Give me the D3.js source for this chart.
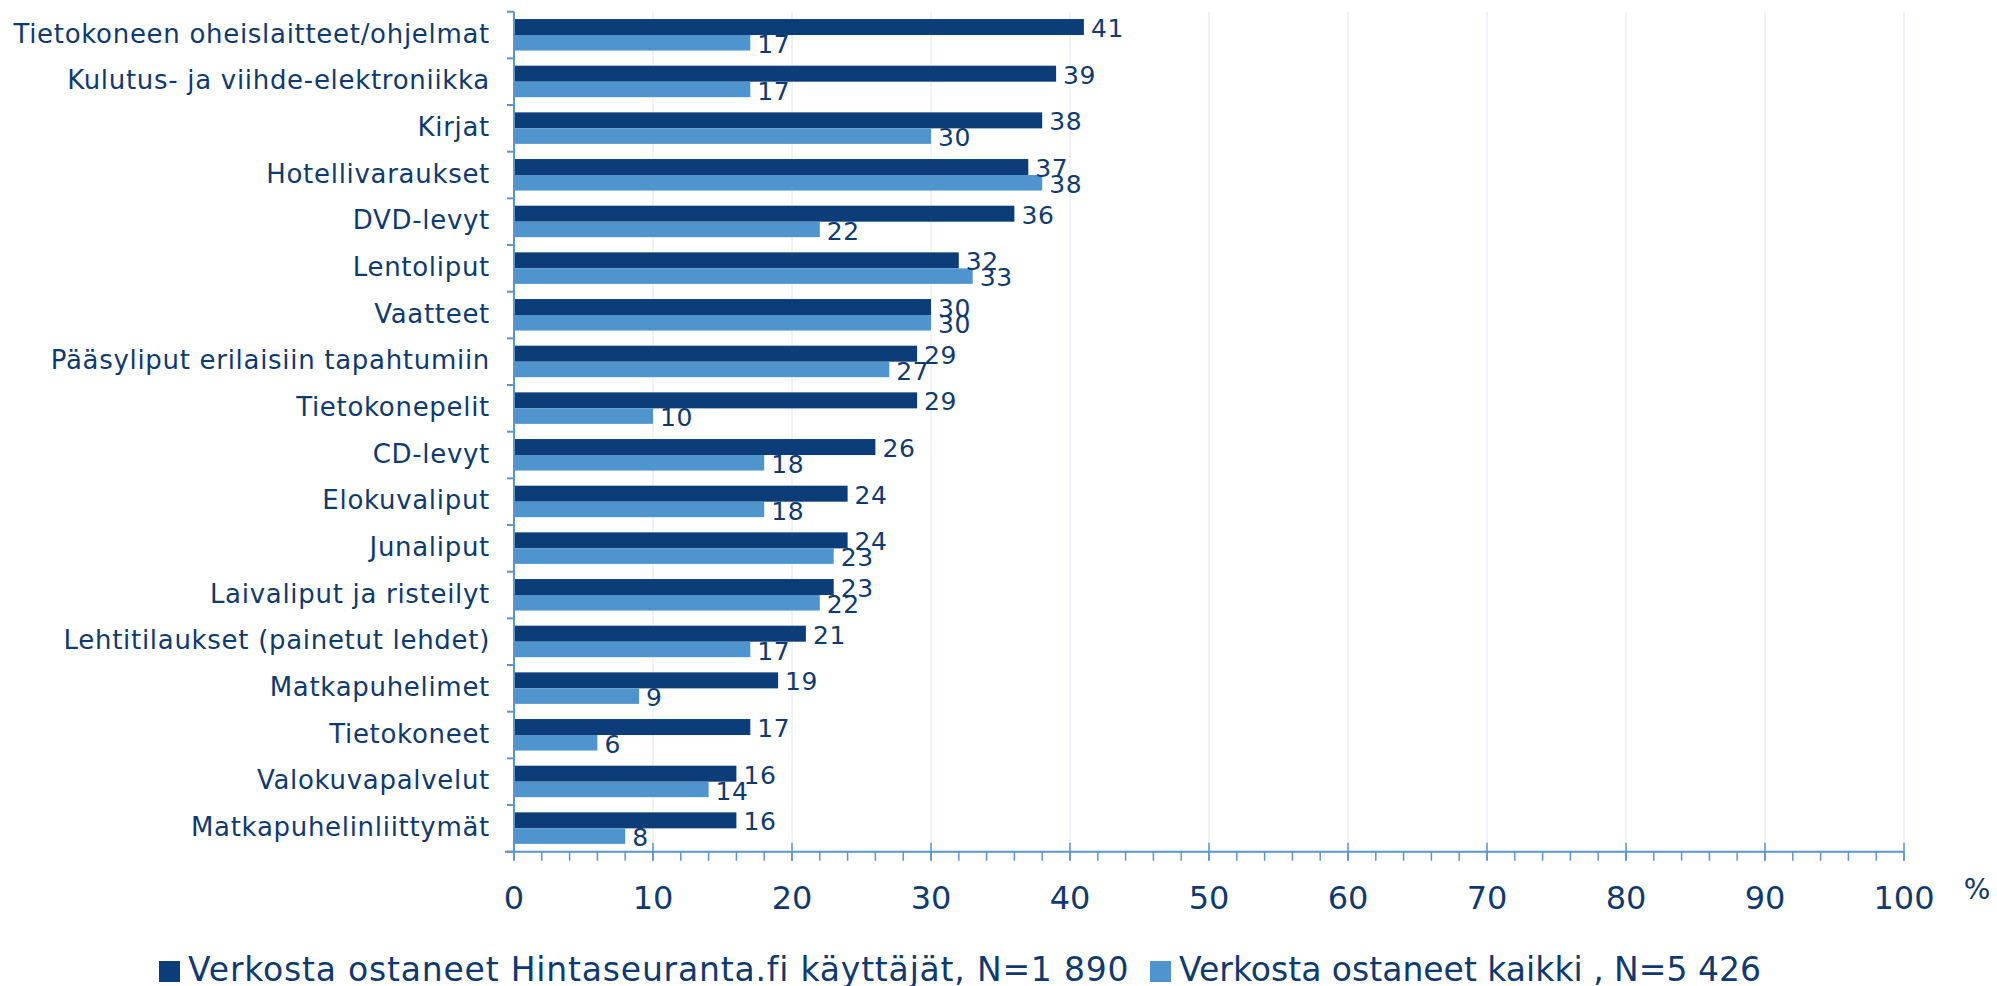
<!DOCTYPE html>
<html>
<head>
<meta charset="utf-8">
<script src="https://cdn.jsdelivr.net/npm/d3@7"></script>
<style>
  body { margin: 0; background: #fff; }
  svg text { font-family: "DejaVu Sans", Verdana, sans-serif; fill: #0f3a70; }
</style>
</head>
<body>
<div id="chart"></div>
<script>
var categories = [
  "Tietokoneen oheislaitteet/ohjelmat",
  "Kulutus-  ja viihde-elektroniikka",
  "Kirjat",
  "Hotellivaraukset",
  "DVD-levyt",
  "Lentoliput",
  "Vaatteet",
  "Pääsyliput erilaisiin tapahtumiin",
  "Tietokonepelit",
  "CD-levyt",
  "Elokuvaliput",
  "Junaliput",
  "Laivaliput ja risteilyt",
  "Lehtitilaukset (painetut lehdet)",
  "Matkapuhelimet",
  "Tietokoneet",
  "Valokuvapalvelut",
  "Matkapuhelinliittymät"
];
var hintaseuranta = [41, 39, 38, 37, 36, 32, 30, 29, 29, 26, 24, 24, 23, 21, 19, 17, 16, 16];
var kaikki = [17, 17, 30, 38, 22, 33, 30, 27, 10, 18, 18, 23, 22, 17, 9, 6, 14, 8];
var seriesNames = [
  "Verkosta ostaneet Hintaseuranta.fi käyttäjät, N=1 890",
  "Verkosta ostaneet kaikki , N=5 426"
];
var xTicks = [0, 10, 20, 30, 40, 50, 60, 70, 80, 90, 100];

var width = 1997, height = 986;
var darkCol = "#0d3d78", lightCol = "#4f94cd", axisCol = "#5b95cf", gridCol = "#dde8f4";

var svg = d3.select("#chart").append("svg")
  .attr("width", width).attr("height", height);

var x = d3.scaleLinear().domain([0, 100]).range([514, 1904]);
var y = d3.scaleBand().domain(categories).range([11.7, 851.7]);
var axisY = y.range()[1];

// gridlines
svg.append("g").selectAll("line")
  .data(xTicks.filter(function(d){ return d > 0; }))
  .enter().append("line")
  .attr("x1", d => x(d)).attr("x2", d => x(d))
  .attr("y1", y.range()[0]).attr("y2", axisY)
  .style("stroke", gridCol).style("stroke-width", 1);

// bars
var rows = categories.map(function(c, i){ return {cat: c, a: hintaseuranta[i], b: kaikki[i]}; });
var g = svg.append("g");
var row = g.selectAll(".row").data(rows).enter().append("g")
  .attr("transform", d => "translate(0," + (y(d.cat) + y.bandwidth()/2) + ")");

row.append("rect")
  .attr("x", x(0)).attr("y", -16)
  .attr("width", d => x(d.a) - x(0)).attr("height", 16)
  .style("fill", darkCol);
row.append("rect")
  .attr("x", x(0)).attr("y", 0)
  .attr("width", d => x(d.b) - x(0)).attr("height", 15.5)
  .style("fill", lightCol);

row.append("text")
  .attr("x", d => x(d.a) + 7).attr("y", 2)
  .style("font-size", "25px").style("letter-spacing", "0.6px")
  .text(d => d.a);
row.append("text")
  .attr("x", d => x(d.b) + 7).attr("y", 18)
  .style("font-size", "25px").style("letter-spacing", "0.6px")
  .text(d => d.b);

// category labels
row.append("text")
  .attr("x", 490).attr("y", 7.5)
  .attr("text-anchor", "end")
  .style("font-size", "26px").style("letter-spacing", "0.7px")
  .text(d => d.cat);

// y axis
svg.append("line")
  .attr("x1", x(0)).attr("x2", x(0))
  .attr("y1", y.range()[0]).attr("y2", axisY)
  .style("stroke", axisCol).style("stroke-width", 2);
svg.append("g").selectAll("line")
  .data(d3.range(categories.length + 1))
  .enter().append("line")
  .attr("x1", x(0) - 7).attr("x2", x(0))
  .attr("y1", i => y.range()[0] + i * y.step())
  .attr("y2", i => y.range()[0] + i * y.step())
  .style("stroke", axisCol).style("stroke-width", 2);

// x axis
var xAxis = svg.append("g");
xAxis.append("line")
  .attr("x1", x(0) - 9).attr("x2", x(100))
  .attr("y1", axisY).attr("y2", axisY)
  .style("stroke", axisCol).style("stroke-width", 2);
xAxis.selectAll(".minor")
  .data(d3.range(0, 101, 2))
  .enter().append("line")
  .attr("x1", d => x(d)).attr("x2", d => x(d))
  .attr("y1", axisY).attr("y2", axisY + 9)
  .style("stroke", axisCol).style("stroke-width", 1.5);
xAxis.selectAll(".major")
  .data(xTicks)
  .enter().append("line")
  .attr("x1", d => x(d)).attr("x2", d => x(d))
  .attr("y1", axisY - 9).attr("y2", axisY + 9)
  .style("stroke", axisCol).style("stroke-width", 1.5);
xAxis.selectAll("text")
  .data(xTicks)
  .enter().append("text")
  .attr("x", d => x(d)).attr("y", 909)
  .attr("text-anchor", "middle")
  .style("font-size", "32px")
  .text(d => d);

svg.append("text")
  .attr("x", 1977).attr("y", 899)
  .attr("text-anchor", "middle")
  .style("font-size", "28px")
  .text("%");

// legend
var legendX = [159, 1150];
var legendCols = [darkCol, lightCol];
var leg = svg.append("g").selectAll("g")
  .data(seriesNames).enter().append("g")
  .attr("transform", (d, i) => "translate(" + legendX[i] + ",0)");
leg.append("rect")
  .attr("x", 0).attr("y", 961).attr("width", 21).attr("height", 21)
  .style("fill", (d, i) => legendCols[i]);
leg.append("text")
  .attr("x", 29).attr("y", 981)
  .style("font-size", "33px")
  .style("letter-spacing", (d, i) => i === 0 ? "0.8px" : "0px")
  .text(d => d);
</script>
</body>
</html>
